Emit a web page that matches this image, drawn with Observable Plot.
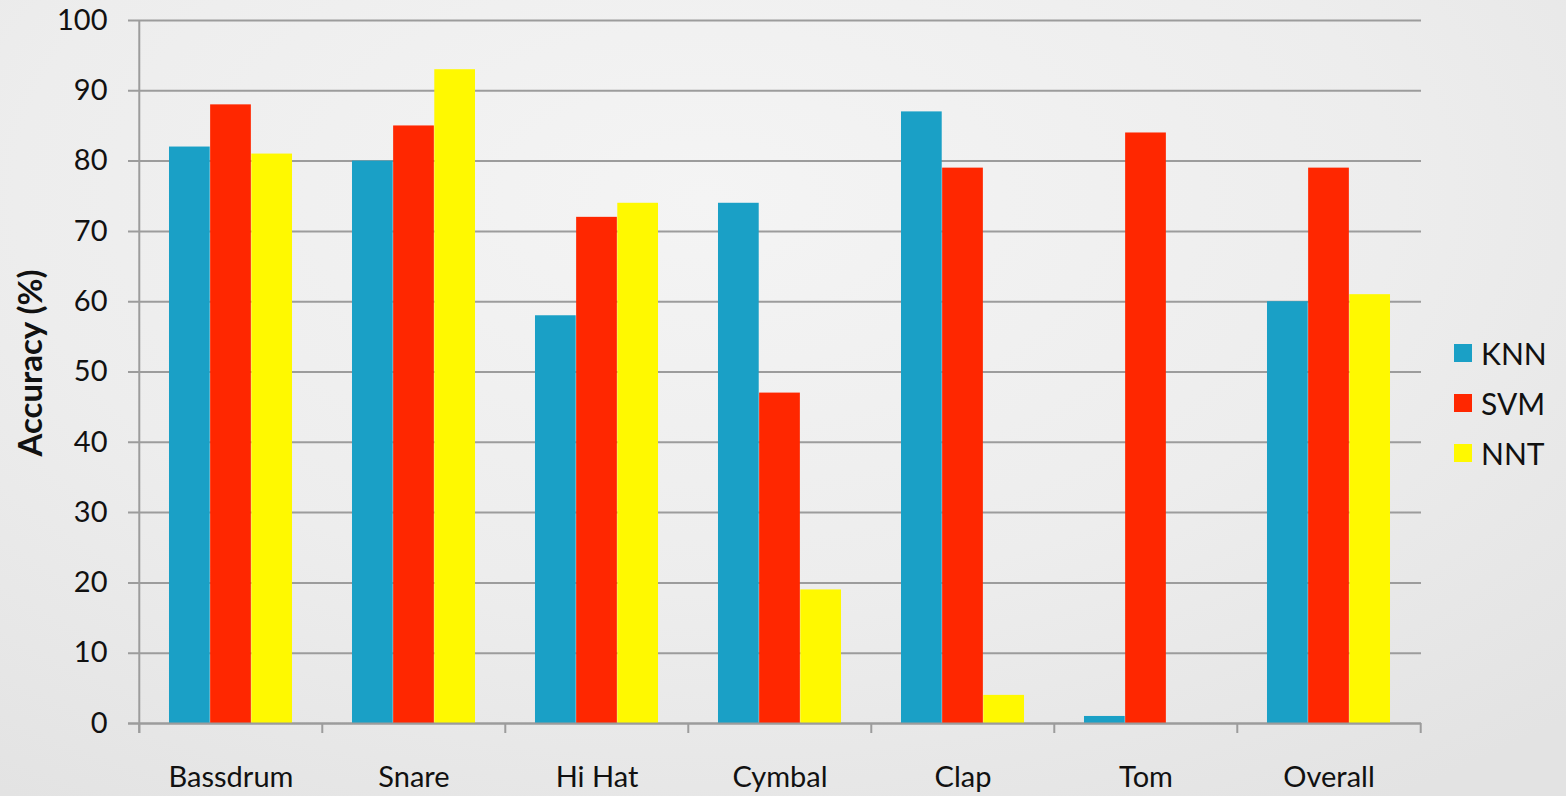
<!DOCTYPE html>
<html><head><meta charset="utf-8">
<script src="https://cdn.jsdelivr.net/npm/d3@7"></script>
<script src="https://cdn.jsdelivr.net/npm/@observablehq/plot@0.6"></script>
<style>
html,body{margin:0;padding:0;}
body{width:1566px;height:796px;overflow:hidden;position:relative;
  background: radial-gradient(ellipse 80% 90% at 45% 25%, #f4f4f4 0%, #ededed 55%, #e3e3e3 100%);
  font-family: Lato, "Open Sans", sans-serif;}
#chart{position:absolute;left:0;top:0}
#legend{position:absolute;left:1454px;top:328px;}
.item{display:flex;align-items:center;height:50px;font-size:30px;color:#111;}
.sw{width:18px;height:18px;margin-right:9px;}
</style></head><body>
<div id="chart"></div><div id="legend"></div>
<script>
const categories = ["Bassdrum","Snare","Hi Hat","Cymbal","Clap","Tom","Overall"];
const series = ["KNN","SVM","NNT"];
const knn = [82,80,58,74,87,1,60];
const svm = [88,85,72,47,79,84,79];
const nnt = [81,93,74,19,4,0,61];
const colors = ["#1aa0c6","#ff2700","#fff900"];
const yTicks = [0,10,20,30,40,50,60,70,80,90,100];
const yLabel = "Accuracy (%)";

const values = [knn, svm, nnt];
const rows = [];
series.forEach((s, si) => categories.forEach((c, ci) => rows.push({category: c, series: s, value: values[si][ci]})));

const W = 1566, H = 796, ml = 137, mr = 145, mt = 20, mb = 73;
const step = (W - ml - mr) / categories.length;
const pad = step * 0.1635;
const barW = (step - 2 * pad) / series.length;
const grid = "#9c9c9c";

const barMarks = series.map((s, si) => Plot.barY(rows.filter(r => r.series === s), {
  x: "category", y: "value", fill: colors[si],
  insetLeft: pad + si * barW, insetRight: pad + (series.length - 1 - si) * barW
}));

const chart = Plot.plot({
  width: W, height: H,
  marginLeft: ml, marginRight: mr, marginTop: mt, marginBottom: mb,
  style: {background: "transparent", fontSize: "29px", color: "#111", fontFamily: "Lato, 'Open Sans', sans-serif"},
  x: {domain: categories, padding: 0, tickSize: 0, tickPadding: 43, label: null},
  y: {domain: [0, 100], ticks: yTicks, tickSize: 0, tickPadding: 30, label: null},
  marks: [
    Plot.ruleY(yTicks, {y: d => d, stroke: grid, strokeWidth: 2, insetLeft: -9}),
    ...barMarks,
    Plot.ruleY([0], {y: d => d, stroke: grid, strokeWidth: 2, insetLeft: -9}),
    Plot.ruleX([categories[0]], {x: d => d, dx: -step / 2, y1: 100, y2: 0, insetBottom: -10, stroke: grid, strokeWidth: 2}),
    Plot.ruleX(categories, {x: d => d, dx: -step / 2, y1: 0, y2: 0, insetBottom: -10, stroke: grid, strokeWidth: 2}),
    Plot.ruleX([categories[categories.length - 1]], {x: d => d, dx: step / 2, y1: 0, y2: 0, insetBottom: -10, stroke: grid, strokeWidth: 2}),
    Plot.text([yLabel], {frameAnchor: "left", textAnchor: "middle", rotate: -90, dx: -106, dy: -9, fontWeight: "bold", fontSize: 33, fill: "#111"})
  ]
});
document.getElementById("chart").appendChild(chart);

const legend = document.getElementById("legend");
series.forEach((s, i) => {
  const item = document.createElement("div");
  item.className = "item";
  const sw = document.createElement("div");
  sw.className = "sw"; sw.style.background = colors[i];
  const t = document.createElement("span"); t.textContent = s;
  item.appendChild(sw); item.appendChild(t);
  legend.appendChild(item);
});
</script>
</body></html>
